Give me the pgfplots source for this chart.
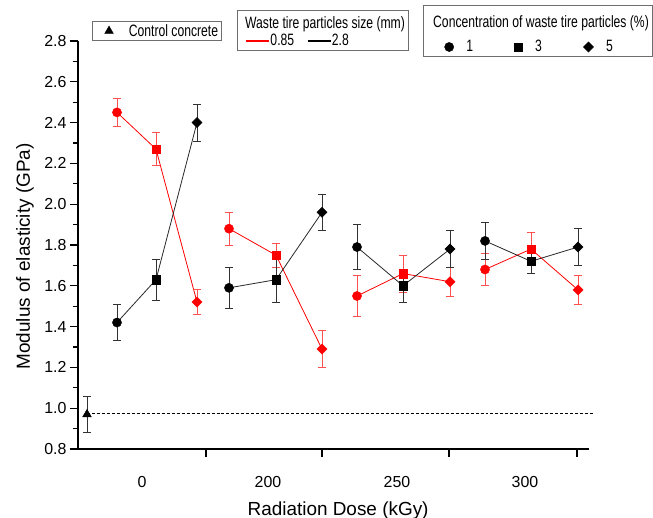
\documentclass[border=0pt]{standalone}
\usepackage{fontspec}
\setmainfont{Liberation Sans}
\newfontfamily\legfont{Liberation Sans}[FakeStretch=0.74]
\usepackage{pgfplots}
\pgfplotsset{compat=1.18}
\definecolor{lred}{RGB}{255,0,0}
\definecolor{ered}{RGB}{255,80,80}
\definecolor{lblack}{RGB}{40,40,40}
\definecolor{eblack}{RGB}{50,50,50}
\definecolor{boxgray}{RGB}{110,110,110}
\pgfplotsset{
  redline/.style={color=lred, line width=0.8bp, no markers,
    error bars/.cd, y dir=both, y explicit,
    error bar style={color=ered, line width=0.8bp},
    error mark options={rotate=90, mark size=4bp, color=ered, line width=0.8bp}},
  blkline/.style={color=lblack, line width=0.8bp, no markers,
    error bars/.cd, y dir=both, y explicit,
    error bar style={color=eblack, line width=0.8bp},
    error mark options={rotate=90, mark size=4bp, color=eblack, line width=0.8bp}},
  mcirc/.style={only marks, mark=*, mark size=4.6bp},
  msq/.style={only marks, mark=square*, mark size=4.3bp},
  mdia/.style={only marks, mark=square*, mark size=3.6bp, mark options={rotate=45}},
  markleg/.style={legend image code/.code={%
    \draw[##1, /tikz/only marks, mark repeat=2, mark phase=2] plot coordinates {(0bp,0bp) (6bp,0bp) (12bp,0bp)};}},
}
\begin{document}
\begin{tikzpicture}
\begin{axis}[
  at={(0,0)}, anchor=south west,
  scale only axis, width=511bp, height=408bp,
  xmin=78, xmax=589, ymin=0.8, ymax=2.8,
  axis lines=left, axis line style={-, line width=1.6bp},
  xtick={206,322,449,577}, xticklabels={},
  extra x ticks={142,268,397,525}, extra x tick labels={0,200,250,300},
  extra x tick style={major tick length=0pt, tick label style={yshift=-24bp}},
  ytick={0.8,1.0,1.2,1.4,1.6,1.8,2.0,2.2,2.4,2.6,2.8}, minor y tick num=1,
  yticklabel style={/pgf/number format/fixed, /pgf/number format/fixed zerofill, /pgf/number format/precision=1},
  /pgf/number format/assume math mode=true,
  tick align=outside, major tick length=8bp, minor tick length=5bp,
  tick style={line width=1.2bp, black},
  ticklabel style={font=\fontsize{16}{18}\selectfont},
  xlabel={Radiation Dose (kGy)}, ylabel={Modulus of elasticity (GPa)},
  label style={font=\fontsize{19}{22}\selectfont},
  xlabel style={at={(axis description cs:0.509,-0.162)}, anchor=base, inner sep=0pt},
  ylabel style={at={(axis description cs:-0.086,0.472)}, anchor=south, inner sep=0pt},
  clip=false,
  markleg,
  legend style={at={(axis description cs:0.0519,1.0245)}, anchor=west, draw=none, fill=none,
    inner sep=0pt, font=\legfont\fontsize{16.5}{18}\selectfont, nodes={inner sep=1.5bp},
    /tikz/every odd column/.append style={column sep=14bp}},
]
% control
\addplot[black, only marks, mark=triangle*, mark size=5bp,
  error bars/.cd, y dir=both, y explicit,
  error bar style={color=eblack, line width=0.8bp},
  error mark options={rotate=90, mark size=4bp, color=eblack, line width=0.8bp}]
  coordinates {(87,0.97) +- (0,0.09)};
\addlegendentry{Control concrete}
\addplot[forget plot, densely dashed, black, line width=0.6bp] coordinates {(87,0.975) (595,0.975)};
% lines with error bars, red (0.85 mm)
\addplot[forget plot, redline] coordinates {(117,2.45) +- (0,0.07) (156,2.27) +- (0,0.08) (197,1.52) +- (0,0.06)};
\addplot[forget plot, redline] coordinates {(229,1.88) +- (0,0.08) (276,1.75) +- (0,0.06) (322,1.29) +- (0,0.09)};
\addplot[forget plot, redline] coordinates {(357,1.55) +- (0,0.10) (403,1.66) +- (0,0.09) (450,1.62) +- (0,0.07)};
\addplot[forget plot, redline] coordinates {(485,1.68) +- (0,0.08) (531,1.78) +- (0,0.08) (578,1.58) +- (0,0.07)};
% black (2.8 mm)
\addplot[forget plot, blkline] coordinates {(117,1.42) +- (0,0.09) (156,1.63) +- (0,0.10) (197,2.40) +- (0,0.09)};
\addplot[forget plot, blkline] coordinates {(229,1.59) +- (0,0.10) (276,1.63) +- (0,0.11) (322,1.96) +- (0,0.09)};
\addplot[forget plot, blkline] coordinates {(357,1.79) +- (0,0.11) (403,1.60) +- (0,0.08) (450,1.78) +- (0,0.09)};
\addplot[forget plot, blkline] coordinates {(485,1.82) +- (0,0.09) (531,1.72) +- (0,0.06) (578,1.79) +- (0,0.09)};
% markers
\addplot[forget plot, mcirc, black] coordinates {(117,1.42) (229,1.59) (357,1.79) (485,1.82)};
\addplot[forget plot, msq, black] coordinates {(156,1.63) (276,1.63) (403,1.60) (531,1.72)};
\addplot[forget plot, mdia, black] coordinates {(197,2.40) (322,1.96) (450,1.78) (578,1.79)};
\addplot[forget plot, mcirc, lred] coordinates {(117,2.45) (229,1.88) (357,1.55) (485,1.68)};
\addplot[forget plot, msq, lred] coordinates {(156,2.27) (276,1.75) (403,1.66) (531,1.78)};
\addplot[forget plot, mdia, lred] coordinates {(197,1.52) (322,1.29) (450,1.62) (578,1.58)};
\end{axis}
% legend: particle size
\begin{axis}[
  at={(0,0)}, anchor=south west,
  scale only axis, width=511bp, height=408bp,
  xmin=78, xmax=589, ymin=0.8, ymax=2.8, hide axis,
  legend columns=2,
  legend style={at={(axis description cs:0.3268,1.0)}, anchor=west, draw=none, fill=none,
    inner sep=0pt, font=\legfont\fontsize{16.5}{18}\selectfont, nodes={inner sep=0.5bp},
    /tikz/every even column/.append style={column sep=12bp}},
  legend image code/.code={\draw[#1, line width=1.8bp] (0bp,0bp) -- (23bp,0bp);},
]
\addlegendimage{lred}
\addlegendentry{0.85}
\addlegendimage{black}
\addlegendentry{2.8}
\end{axis}
% legend: concentration
\begin{axis}[
  at={(0,0)}, anchor=south west,
  scale only axis, width=511bp, height=408bp,
  xmin=78, xmax=589, ymin=0.8, ymax=2.8, hide axis,
  legend columns=3,
  markleg,
  legend style={at={(axis description cs:0.717,0.9853)}, anchor=west, draw=none, fill=none,
    inner sep=0pt, font=\legfont\fontsize{16.5}{18}\selectfont, nodes={inner sep=0.5bp},
    /tikz/every odd column/.append style={column sep=12bp},
    /tikz/every even column/.append style={column sep=41bp}},
]
\addlegendimage{black, only marks, mark=*, mark size=4.6bp}
\addlegendentry{1}
\addlegendimage{black, only marks, mark=square*, mark size=4.0bp}
\addlegendentry{3}
\addlegendimage{black, only marks, mark=square*, mark size=3.6bp, mark options={rotate=45}}
\addlegendentry{5}
\end{axis}
% boxes and titles
\draw[boxgray, line width=0.9bp] (14bp,409bp) rectangle (143bp,428bp);
\draw[boxgray, line width=0.9bp] (159bp,399bp) rectangle (330bp,439bp);
\draw[boxgray, line width=0.9bp] (345bp,393bp) rectangle (574bp,444bp);
\node[anchor=base west, inner sep=0pt, font=\legfont\fontsize{16.5}{18}\selectfont] at (167bp,420bp) {Waste tire particles size (mm)};
\node[anchor=base west, inner sep=0pt, font=\legfont\fontsize{16.5}{18}\selectfont] at (355bp,421bp) {Concentration of waste tire particles (\%)};
\pgfresetboundingbox
\useasboundingbox (-78bp,-69bp) rectangle (575bp,449bp);
\end{tikzpicture}
\end{document}
